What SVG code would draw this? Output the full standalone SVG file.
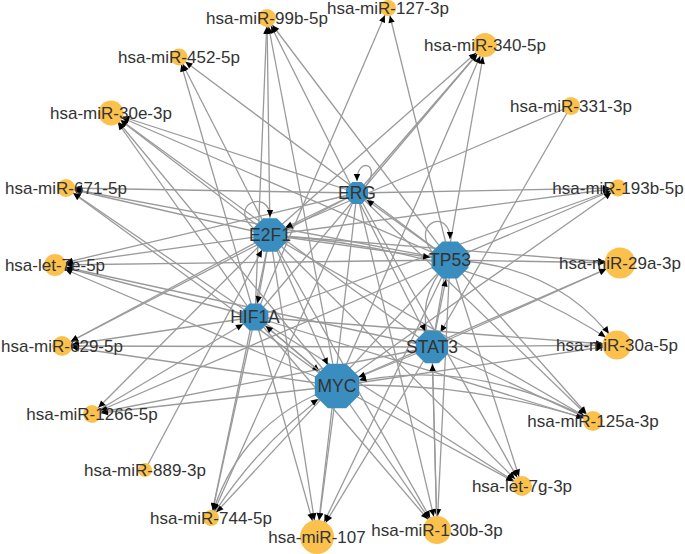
<svg xmlns="http://www.w3.org/2000/svg" width="685" height="554" viewBox="0 0 685 554">
<style>
.e line, .e path { stroke: #9a9a9a; stroke-width: 1.3; fill: none; }
.mir { fill: #FCC14D; }
.hub { fill: #3A8EBF; }
text { font-family: "Liberation Sans", Arial, sans-serif; font-size: 17px; fill: #333; text-anchor: middle; }
.hl { font-size: 17.5px; }
.ah { fill: #000; }
</style>
<defs>
<polygon id="oct" points="0.924,0.383 0.383,0.924 -0.383,0.924 -0.924,0.383 -0.924,-0.383 -0.383,-0.924 0.383,-0.924 0.924,-0.383"/>
<marker id="t0" markerUnits="userSpaceOnUse" markerWidth="10" markerHeight="10" refX="0" refY="0" orient="auto" overflow="visible"><path class="ah" d="M-7,-3.2 L0,0 L-7,3.2 z"/></marker>
<marker id="t7" markerUnits="userSpaceOnUse" markerWidth="10" markerHeight="10" refX="7" refY="0" orient="auto" overflow="visible"><path class="ah" d="M-7,-3.2 L0,0 L-7,3.2 z"/></marker>
<marker id="t8" markerUnits="userSpaceOnUse" markerWidth="10" markerHeight="10" refX="8" refY="0" orient="auto" overflow="visible"><path class="ah" d="M-7,-3.2 L0,0 L-7,3.2 z"/></marker>
<marker id="t9" markerUnits="userSpaceOnUse" markerWidth="10" markerHeight="10" refX="9" refY="0" orient="auto" overflow="visible"><path class="ah" d="M-7,-3.2 L0,0 L-7,3.2 z"/></marker>
<marker id="t10" markerUnits="userSpaceOnUse" markerWidth="10" markerHeight="10" refX="10" refY="0" orient="auto" overflow="visible"><path class="ah" d="M-7,-3.2 L0,0 L-7,3.2 z"/></marker>
<marker id="t11" markerUnits="userSpaceOnUse" markerWidth="10" markerHeight="10" refX="11" refY="0" orient="auto" overflow="visible"><path class="ah" d="M-7,-3.2 L0,0 L-7,3.2 z"/></marker>
<marker id="t12" markerUnits="userSpaceOnUse" markerWidth="10" markerHeight="10" refX="12" refY="0" orient="auto" overflow="visible"><path class="ah" d="M-7,-3.2 L0,0 L-7,3.2 z"/></marker>
<marker id="t14" markerUnits="userSpaceOnUse" markerWidth="10" markerHeight="10" refX="14" refY="0" orient="auto" overflow="visible"><path class="ah" d="M-7,-3.2 L0,0 L-7,3.2 z"/></marker>
<marker id="t15" markerUnits="userSpaceOnUse" markerWidth="10" markerHeight="10" refX="15" refY="0" orient="auto" overflow="visible"><path class="ah" d="M-7,-3.2 L0,0 L-7,3.2 z"/></marker>
<marker id="t17" markerUnits="userSpaceOnUse" markerWidth="10" markerHeight="10" refX="17" refY="0" orient="auto" overflow="visible"><path class="ah" d="M-7,-3.2 L0,0 L-7,3.2 z"/></marker>
<marker id="t20" markerUnits="userSpaceOnUse" markerWidth="10" markerHeight="10" refX="20" refY="0" orient="auto" overflow="visible"><path class="ah" d="M-7,-3.2 L0,0 L-7,3.2 z"/></marker>
<marker id="t23" markerUnits="userSpaceOnUse" markerWidth="10" markerHeight="10" refX="23" refY="0" orient="auto" overflow="visible"><path class="ah" d="M-7,-3.2 L0,0 L-7,3.2 z"/></marker>
</defs>

<g id="connectors" class="e">
  <!-- hsa-miR-99b-5p -->
  <g marker-end="url(#t9)">
    <line x1="270" y1="235" x2="267" y2="18"/>
    <line x1="255" y1="317" x2="267" y2="18"/>
    <line x1="337" y1="386" x2="267" y2="18"/>
    <line x1="432" y1="347" x2="267" y2="18"/>
    <line x1="450" y1="260" x2="267" y2="18"/>
  </g>
  <!-- hsa-miR-127-3p -->
  <g marker-end="url(#t8)">
    <line x1="255" y1="317" x2="388" y2="8"/>
    <line x1="450" y1="260" x2="388" y2="8"/>
  </g>
  <!-- hsa-miR-452-5p -->
  <g marker-end="url(#t8)">
    <line x1="270" y1="235" x2="179" y2="57"/>
    <line x1="255" y1="317" x2="179" y2="57"/>
    <line x1="450" y1="260" x2="179" y2="57"/>
  </g>
  <!-- hsa-miR-340-5p -->
  <g marker-end="url(#t12)">
    <line x1="270" y1="235" x2="485" y2="45"/>
    <line x1="255" y1="317" x2="485" y2="45"/>
    <line x1="337" y1="386" x2="485" y2="45"/>
    <line x1="432" y1="347" x2="485" y2="45"/>
    <line x1="357" y1="193" x2="485" y2="45"/>
  </g>
  <!-- hsa-miR-30e-3p -->
  <g marker-end="url(#t12)">
    <line x1="270" y1="235" x2="111" y2="113"/>
    <line x1="255" y1="317" x2="111" y2="113"/>
    <line x1="337" y1="386" x2="111" y2="113"/>
    <line x1="450" y1="260" x2="111" y2="113"/>
    <line x1="432" y1="347" x2="111" y2="113"/>
    <line x1="357" y1="193" x2="111" y2="113"/>
  </g>
  <!-- hsa-miR-331-3p (to hubs) -->
  <g marker-end="url(#t17)">
    <line x1="571" y1="106" x2="270" y2="235"/>
    <line x1="571" y1="106" x2="432" y2="347"/>
  </g>
  <!-- hsa-miR-671-5p -->
  <g marker-end="url(#t9)">
    <line x1="357" y1="193" x2="66" y2="188"/>
    <line x1="270" y1="235" x2="66" y2="188"/>
    <line x1="450" y1="260" x2="66" y2="188"/>
    <line x1="255" y1="317" x2="66" y2="188"/>
    <line x1="337" y1="386" x2="66" y2="188"/>
  </g>
  <!-- hsa-miR-193b-5p -->
  <g marker-end="url(#t8)">
    <line x1="357" y1="193" x2="618" y2="188"/>
    <line x1="270" y1="235" x2="618" y2="188"/>
    <line x1="255" y1="317" x2="618" y2="188"/>
    <line x1="450" y1="260" x2="618" y2="188"/>
    <line x1="337" y1="386" x2="618" y2="188"/>
  </g>
  <!-- hsa-let-7e-5p -->
  <g marker-end="url(#t11)">
    <line x1="270" y1="235" x2="55" y2="265"/>
    <line x1="357" y1="193" x2="55" y2="265"/>
    <line x1="255" y1="317" x2="55" y2="265"/>
    <line x1="450" y1="260" x2="55" y2="265"/>
    <line x1="432" y1="347" x2="55" y2="265"/>
    <line x1="337" y1="386" x2="55" y2="265"/>
  </g>
  <!-- hsa-miR-29a-3p -->
  <g marker-end="url(#t15)">
    <line x1="270" y1="235" x2="620" y2="263"/>
    <line x1="450" y1="260" x2="620" y2="263"/>
    <line x1="337" y1="386" x2="620" y2="263"/>
    <line x1="432" y1="347" x2="620" y2="263"/>
  </g>
  <!-- hsa-miR-629-5p -->
  <g marker-end="url(#t10)">
    <line x1="270" y1="235" x2="62" y2="346"/>
    <line x1="357" y1="193" x2="62" y2="346"/>
    <line x1="255" y1="317" x2="62" y2="346"/>
    <line x1="432" y1="347" x2="62" y2="346"/>
    <line x1="337" y1="386" x2="62" y2="346"/>
  </g>
  <!-- hsa-miR-30a-5p -->
  <g marker-end="url(#t14)">
    <line x1="255" y1="317" x2="617" y2="345"/>
    <line x1="337" y1="386" x2="617" y2="345"/>
    <line x1="432" y1="347" x2="617" y2="345"/>
    <path d="M450,260 Q560,265 617,345"/>
    <path d="M270,235 Q480,250 617,345"/>
  </g>
  <!-- hsa-miR-1266-5p -->
  <g marker-end="url(#t9)">
    <line x1="270" y1="235" x2="92" y2="414"/>
    <line x1="450" y1="260" x2="92" y2="414"/>
    <line x1="337" y1="386" x2="92" y2="414"/>
    <line x1="432" y1="347" x2="92" y2="414"/>
  </g>
  <line x1="92" y1="414" x2="255" y2="317" marker-end="url(#t14)"/>
  <!-- hsa-miR-125a-3p -->
  <g marker-end="url(#t10)">
    <line x1="450" y1="260" x2="593" y2="421"/>
    <line x1="357" y1="193" x2="593" y2="421"/>
    <line x1="270" y1="235" x2="593" y2="421"/>
    <line x1="432" y1="347" x2="593" y2="421"/>
    <line x1="255" y1="317" x2="593" y2="421"/>
    <path d="M337,386 Q465,380 593,421"/>
  </g>
  <path d="M593,421 Q465,352 337,386" marker-end="url(#t23)"/>
  <!-- hsa-let-7g-3p -->
  <g marker-end="url(#t10)">
    <line x1="337" y1="386" x2="522" y2="486"/>
    <line x1="255" y1="317" x2="522" y2="486"/>
    <line x1="270" y1="235" x2="522" y2="486"/>
    <line x1="357" y1="193" x2="522" y2="486"/>
    <line x1="450" y1="260" x2="522" y2="486"/>
  </g>
  <!-- hsa-miR-130b-3p -->
  <g marker-end="url(#t14)">
    <line x1="337" y1="386" x2="437" y2="530"/>
    <line x1="255" y1="317" x2="437" y2="530"/>
    <line x1="270" y1="235" x2="437" y2="530"/>
    <line x1="357" y1="193" x2="437" y2="530"/>
    <line x1="450" y1="260" x2="437" y2="530"/>
    <line x1="432" y1="347" x2="437" y2="530"/>
  </g>
  <line x1="437" y1="530" x2="432" y2="347" marker-end="url(#t17)"/>
  <!-- hsa-miR-107 -->
  <g marker-end="url(#t17)">
    <line x1="337" y1="386" x2="317" y2="537"/>
    <line x1="255" y1="317" x2="317" y2="537"/>
    <line x1="270" y1="235" x2="317" y2="537"/>
    <line x1="357" y1="193" x2="317" y2="537"/>
    <line x1="450" y1="260" x2="317" y2="537"/>
    <line x1="432" y1="347" x2="317" y2="537"/>
  </g>
  <!-- hsa-miR-744-5p -->
  <g marker-end="url(#t8)">
    <line x1="270" y1="235" x2="211" y2="518"/>
    <line x1="255" y1="317" x2="211" y2="518"/>
    <line x1="357" y1="193" x2="211" y2="518"/>
    <line x1="450" y1="260" x2="211" y2="518"/>
    <path d="M337,386 Q240,420 211,518"/>
  </g>
  <path d="M211,518 Q262,438 337,386" marker-end="url(#t23)"/>
  <!-- hsa-miR-889-3p -->
  <line x1="145" y1="470" x2="270" y2="235" marker-end="url(#t17)"/>
  <!-- hub to hub -->
  <line x1="357" y1="193" x2="270" y2="235" marker-end="url(#t17)"/>
  <line x1="270" y1="235" x2="255" y2="317" marker-end="url(#t14)"/>
  <line x1="270" y1="235" x2="337" y2="386" marker-end="url(#t23)"/>
  <line x1="255" y1="317" x2="337" y2="386" marker-end="url(#t23)"/>
  <line x1="432" y1="347" x2="337" y2="386" marker-end="url(#t23)"/>
  <line x1="270" y1="235" x2="450" y2="260" marker-end="url(#t20)"/>
  <path d="M450,260 Q412,300 432,347" marker-end="url(#t17)"/>
  <line x1="432" y1="347" x2="450" y2="260" marker-end="url(#t20)"/>
  <line x1="450" y1="260" x2="357" y2="193" marker-end="url(#t12)"/>
  <line x1="337" y1="386" x2="255" y2="317" marker-end="url(#t14)"/>
  <!-- self loops -->
  <path d="M366,186 C382,164 357,156 357,181" marker-end="url(#t0)"/>
  <path d="M254,229 C226,204 270,188 270,217" marker-end="url(#t0)"/>
  <path d="M432,252 C410,222 450,208 450,239" marker-end="url(#t0)"/>
</g>

<g id="n-ERG"><use href="#oct" class="hub" transform="translate(357,193) scale(12)"/><text class="hl" x="357" y="199">ERG</text></g>
<g id="n-E2F1"><use href="#oct" class="hub" transform="translate(270,235) scale(18)"/><text class="hl" x="270" y="241">E2F1</text></g>
<g id="n-TP53"><use href="#oct" class="hub" transform="translate(450,260) scale(20)"/><text class="hl" x="450" y="266">TP53</text></g>
<g id="n-HIF1A"><use href="#oct" class="hub" transform="translate(255,317) scale(14.5)"/><text class="hl" x="255" y="323">HIF1A</text></g>
<g id="n-STAT3"><use href="#oct" class="hub" transform="translate(432,347) scale(17.5)"/><text class="hl" x="432" y="353">STAT3</text></g>
<g id="n-MYC"><use href="#oct" class="hub" transform="translate(337,386) scale(24)"/><text class="hl" x="337" y="392">MYC</text></g>

<g id="n-miR-99b-5p"><circle class="mir" cx="267" cy="18" r="9"/><text x="267" y="24">hsa-miR-99b-5p</text></g>
<g id="n-miR-127-3p"><circle class="mir" cx="388" cy="8" r="8"/><text x="388" y="14">hsa-miR-127-3p</text></g>
<g id="n-miR-452-5p"><circle class="mir" cx="179" cy="57" r="8.5"/><text x="179" y="63">hsa-miR-452-5p</text></g>
<g id="n-miR-340-5p"><circle class="mir" cx="485" cy="45" r="12"/><text x="485" y="51">hsa-miR-340-5p</text></g>
<g id="n-miR-30e-3p"><circle class="mir" cx="111" cy="113" r="12.5"/><text x="111" y="119">hsa-miR-30e-3p</text></g>
<g id="n-miR-331-3p"><circle class="mir" cx="571" cy="106" r="9"/><text x="571" y="112">hsa-miR-331-3p</text></g>
<g id="n-miR-671-5p"><circle class="mir" cx="66" cy="188" r="9"/><text x="66" y="194">hsa-miR-671-5p</text></g>
<g id="n-miR-193b-5p"><circle class="mir" cx="618" cy="188" r="8.5"/><text x="618" y="194">hsa-miR-193b-5p</text></g>
<g id="n-let-7e-5p"><circle class="mir" cx="55" cy="265" r="11"/><text x="55" y="271">hsa-let-7e-5p</text></g>
<g id="n-miR-29a-3p"><circle class="mir" cx="620" cy="263" r="15.5"/><text x="620" y="269">hsa-miR-29a-3p</text></g>
<g id="n-miR-629-5p"><circle class="mir" cx="62" cy="346" r="10"/><text x="62" y="352">hsa-miR-629-5p</text></g>
<g id="n-miR-30a-5p"><circle class="mir" cx="617" cy="345" r="14.5"/><text x="617" y="351">hsa-miR-30a-5p</text></g>
<g id="n-miR-1266-5p"><circle class="mir" cx="92" cy="414" r="9"/><text x="92" y="420">hsa-miR-1266-5p</text></g>
<g id="n-miR-125a-3p"><circle class="mir" cx="593" cy="421" r="10"/><text x="593" y="427">hsa-miR-125a-3p</text></g>
<g id="n-miR-889-3p"><circle class="mir" cx="145" cy="470" r="7"/><text x="145" y="476">hsa-miR-889-3p</text></g>
<g id="n-let-7g-3p"><circle class="mir" cx="522" cy="486" r="10"/><text x="522" y="492">hsa-let-7g-3p</text></g>
<g id="n-miR-744-5p"><circle class="mir" cx="211" cy="518" r="8"/><text x="211" y="524">hsa-miR-744-5p</text></g>
<g id="n-miR-107"><circle class="mir" cx="317" cy="537" r="17"/><text x="317" y="543">hsa-miR-107</text></g>
<g id="n-miR-130b-3p"><circle class="mir" cx="437" cy="530" r="14"/><text x="437" y="536">hsa-miR-130b-3p</text></g>
</svg>
